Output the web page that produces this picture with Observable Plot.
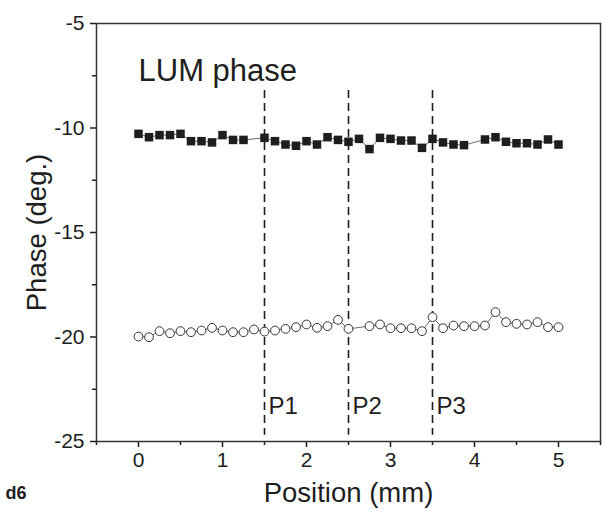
<!DOCTYPE html>
<html>
<head>
<meta charset="utf-8">
<script src="https://cdn.jsdelivr.net/npm/d3@7"></script>
<script src="https://cdn.jsdelivr.net/npm/@observablehq/plot@0.6"></script>
<style>
  html, body { margin: 0; padding: 0; background: #fff; }
</style>
</head>
<body>
<div id="chart"></div>
<script>
// Filled squares (upper series)
const posFilled = [0, 0.125, 0.25, 0.375, 0.5, 0.625, 0.75, 0.875, 1.0, 1.125, 1.25,
  1.5, 1.625, 1.75, 1.875, 2.0, 2.125, 2.25, 2.375, 2.5, 2.625, 2.75, 2.875, 3.0, 3.125, 3.25, 3.375,
  3.5, 3.625, 3.75, 3.875, 4.125, 4.25, 4.375, 4.5, 4.625, 4.75, 4.875, 5.0];
const phaseFilled = [-10.28, -10.44, -10.34, -10.34, -10.28, -10.63, -10.63, -10.69, -10.34, -10.57, -10.57,
  -10.47, -10.63, -10.79, -10.85, -10.63, -10.79, -10.44, -10.57, -10.66, -10.52, -11.01, -10.47, -10.52, -10.60, -10.60, -10.95,
  -10.52, -10.69, -10.79, -10.82, -10.55, -10.44, -10.66, -10.73, -10.73, -10.79, -10.55, -10.79];

// Open circles (lower series)
const posOpen = [0, 0.125, 0.25, 0.375, 0.5, 0.625, 0.75, 0.875, 1.0, 1.125, 1.25, 1.375,
  1.5, 1.625, 1.75, 1.875, 2.0, 2.125, 2.25, 2.375, 2.5,
  2.75, 2.875, 3.0, 3.125, 3.25, 3.375, 3.5, 3.625, 3.75, 3.875, 4.0, 4.125, 4.25, 4.375, 4.5, 4.625, 4.75, 4.875, 5.0];
const phaseOpen = [-19.98, -20.01, -19.72, -19.82, -19.72, -19.77, -19.69, -19.56, -19.69, -19.77, -19.77, -19.64,
  -19.74, -19.69, -19.61, -19.53, -19.40, -19.56, -19.48, -19.18, -19.61,
  -19.48, -19.40, -19.58, -19.58, -19.58, -19.72, -19.05, -19.58, -19.45, -19.48, -19.48, -19.45, -18.81, -19.29, -19.37, -19.40, -19.29, -19.53, -19.53];

// Region dividers and labels
const dividers = [1.5, 2.5, 3.5];
const regionLabels = ["P1", "P2", "P3"];

// Axis ticks
const xTicks = [0, 1, 2, 3, 4, 5];
const xMinorTicks = [-0.5, 0.5, 1.5, 2.5, 3.5, 4.5, 5.5];
const yTicks = [-25, -20, -15, -10, -5];
const yMinorTicks = [-22.5, -17.5, -12.5, -7.5];

const filled = posFilled.map((x, i) => ({x, y: phaseFilled[i]}));
const open = posOpen.map((x, i) => ({x, y: phaseOpen[i]}));
const regions = dividers.map((x, i) => ({x, label: regionLabels[i]}));

const ink = "#1e1e1e";

const chart = Plot.plot({
  width: 605,
  height: 520,
  marginLeft: 96,
  marginRight: 5,
  marginTop: 23,
  marginBottom: 79,
  x: {domain: [-0.5, 5.5]},
  y: {domain: [-25, -5]},
  style: {fontFamily: "'Liberation Sans', Arial, sans-serif", background: "#fff", color: ink},
  marks: [
    Plot.axisX({ticks: xTicks, tickSize: 6, tickPadding: 5, fontSize: 21, strokeWidth: 1.5, label: null, tickFormat: d => String(d)}),
    Plot.axisX({ticks: xMinorTicks, tickSize: 4, strokeWidth: 1.5, label: null, tickFormat: () => ""}),
    Plot.axisY({ticks: yTicks, tickSize: 6, tickPadding: 6, fontSize: 21, strokeWidth: 1.5, label: null, tickFormat: d => String(d)}),
    Plot.axisY({ticks: yMinorTicks, tickSize: 4, strokeWidth: 1.5, label: null, tickFormat: () => ""}),
    Plot.ruleX(regions, {x: "x", y1: -8.2, y2: -24.7, stroke: ink, strokeWidth: 1.6, strokeDasharray: "8,5"}),
    Plot.text(regions, {x: "x", y: -23.33, text: "label", textAnchor: "start", dx: 4, fontSize: 24, fill: ink}),
    Plot.line(filled, {x: "x", y: "y", stroke: "#444", strokeWidth: 0.8}),
    Plot.dot(filled, {x: "x", y: "y", symbol: "square", r: 4.8, fill: ink, stroke: "none"}),
    Plot.line(open, {x: "x", y: "y", stroke: "#444", strokeWidth: 0.8}),
    Plot.dot(open, {x: "x", y: "y", symbol: "circle", r: 4.4, fill: "#fff", stroke: "#333", strokeWidth: 1}),
    Plot.text(["LUM phase"], {x: 0, y: -7.3, text: d => d, textAnchor: "start", dx: 0, fontSize: 31, fill: ink}),
    Plot.text(["Position (mm)"], {frameAnchor: "bottom", dy: 52, text: d => d, textAnchor: "middle", lineAnchor: "middle", fontSize: 27.5, fill: ink}),
    Plot.text(["Phase (deg.)"], {frameAnchor: "left", dx: -59, rotate: -90, text: d => d, textAnchor: "middle", lineAnchor: "middle", fontSize: 27.5, fill: ink}),
    Plot.text(["d6"], {frameAnchor: "bottom-left", dx: -91, dy: 52, text: d => d, textAnchor: "start", lineAnchor: "middle", fontSize: 18, fontWeight: "bold", fill: ink}),
    Plot.frame({stroke: "#333", strokeWidth: 1.5})
  ]
});

document.getElementById("chart").appendChild(chart);
</script>
</body>
</html>
